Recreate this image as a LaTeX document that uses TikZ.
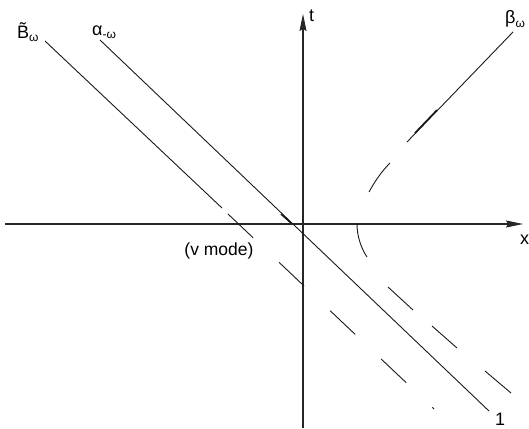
\documentclass[tikz,border=0pt]{standalone}
\usepackage{fontspec}
\setmainfont{Liberation Sans}
\usetikzlibrary{arrows.meta}
\tikzset{
    axis_line/.style={-{Stealth[length=17pt, width=7pt, inset=2pt]}, line width=1.1pt, draw=black!85},
    world_line/.style={line width=0.9pt, draw=black!90},
    ghost_dash/.style={world_line, dash pattern=on 34.5pt off 35.8pt},
    overlap_line/.style={line width=1.6pt, draw=black!90},
    label_big/.style={font=\fontsize{18}{21}\selectfont, inner sep=0pt},
    label_mid/.style={font=\fontsize{17.5}{20}\selectfont, inner sep=0pt}
}
\newcommand{\lowsub}[1]{\raisebox{-0.35ex}{\fontsize{12}{13}\selectfont #1}}

\begin{document}
\begin{tikzpicture}[x=1pt, y=-1pt]
  \useasboundingbox (0,0) rectangle (529,428);

  % axes
  \coordinate (x_start) at (5,224);
  \coordinate (x_tip) at (523,224);
  \coordinate (t_start) at (303,428);
  \coordinate (t_tip) at (303,14);
  \draw[axis_line] (x_start) -- (x_tip);
  \draw[axis_line] (t_start) -- (t_tip);
  \node (lbl_t) [label_big, anchor=base west] at (309,22) {t};
  \node (lbl_x) [label_big, anchor=base west] at (520,244) {x};

  % B tilde line, solid then broken
  \coordinate (b_top) at (45,41);
  \coordinate (b_cut) at (222,208);
  \coordinate (b_gap) at (228,214);
  \coordinate (b_end) at (434,409);
  \draw[world_line] (b_top) -- (b_cut);
  \draw[ghost_dash] (b_gap) -- (b_end);
  \node (lbl_B) [label_big, anchor=base west] at (17,38) {\~{B}\lowsub{ω}};

  % alpha line
  \coordinate (a_top) at (100,40);
  \coordinate (a_end) at (489,411);
  \draw[world_line] (a_top) -- (a_end);
  \draw[overlap_line] (281,214) -- (291,223);
  \node (lbl_alpha) [label_big, anchor=base west] at (92,35) {α\lowsub{-ω}};
  \node (lbl_one) [label_big, anchor=base west] at (495,425) {1};

  % beta curve
  \coordinate (c_top) at (513,32);
  \coordinate (c_low) at (407,142);
  \draw[world_line] (c_top) -- (c_low);
  \draw[overlap_line] (415,133) -- (437,110);
  \draw[world_line] (390,163) .. controls (382,171) and (375,181) .. (369,192);
  \draw[world_line] (357,224) .. controls (357,236) and (361,248) .. (367,257);
  \draw[world_line] (388,287) -- (413,310);
  \draw[world_line] (432,326) -- (457,348);
  \draw[world_line] (485,371) -- (511,393);
  \node (lbl_beta) [label_big, anchor=base west] at (505,24) {β\lowsub{ω}};

  \node (lbl_vmode) [label_mid] at (219,251) {(v mode)};
\end{tikzpicture}
\end{document}
